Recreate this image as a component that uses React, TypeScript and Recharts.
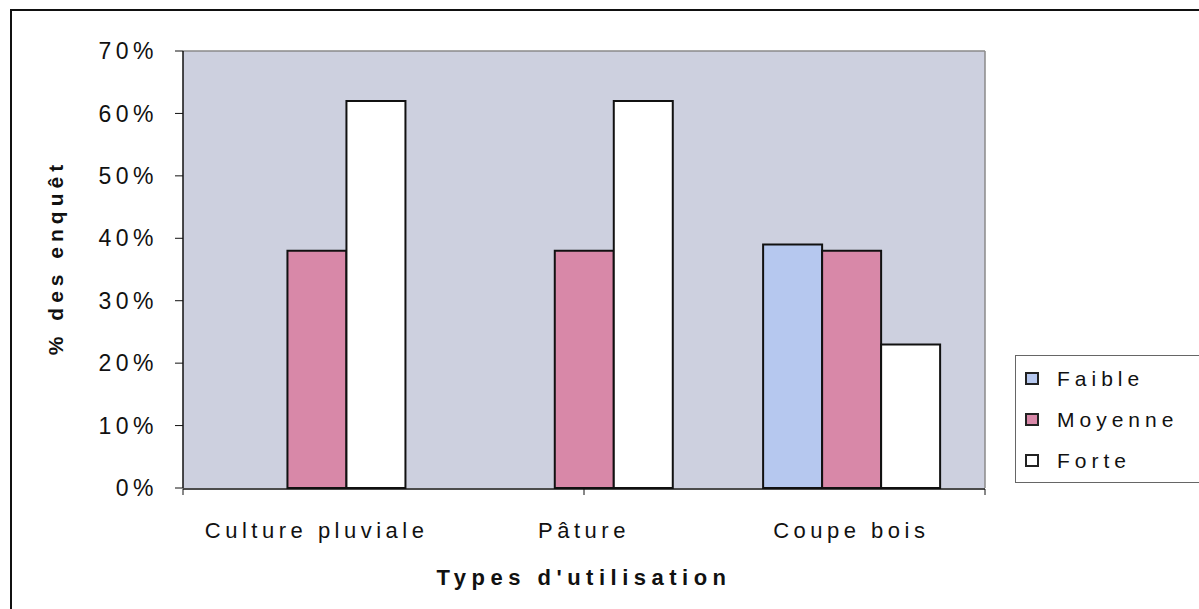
import { BarChart, Bar, XAxis, YAxis, CartesianGrid, Legend } from 'recharts';

// Types d'utilisation vs % des enquêtés
const categories = ['Culture pluviale', 'Pâture', 'Coupe bois'];
const seriesNames = ['Faible', 'Moyenne', 'Forte'];
const faible = [0, 0, 39];
const moyenne = [38, 38, 38];
const forte = [62, 62, 23];
const yTicks = [0, 10, 20, 30, 40, 50, 60, 70];
const boundaryTicks = [0, 1, 2, 3];

const data = categories.map((name, i) => ({
  name,
  Faible: faible[i],
  Moyenne: moyenne[i],
  Forte: forte[i],
}));

const FONT = '"Liberation Sans", Arial, sans-serif';

const YLabel = (props: any) => {
  const vb = props.viewBox || {};
  const x = 55;
  const y = vb.y + vb.height / 2 - 12;
  return (
    <text
      x={x}
      y={y}
      transform={`rotate(-90, ${x}, ${y})`}
      textAnchor="middle"
      dominantBaseline="central"
      fontFamily={FONT}
      fontWeight="bold"
      fontSize={21}
      letterSpacing={5}
      fill="#111"
    >
      % des enquêt
    </text>
  );
};

const LegendBox = (props: any) => {
  const payload = [...(props.payload || [])].sort(
    (a: any, b: any) => seriesNames.indexOf(a.value) - seriesNames.indexOf(b.value)
  );
  return (
    <div
      style={{
        border: '1px solid #666',
        background: '#fff',
        padding: '2px 0 1px 9px',
        fontFamily: FONT,
        fontSize: 21,
        letterSpacing: 5,
        color: '#111',
      }}
    >
      {payload.map((entry: any) => (
        <div key={entry.value} style={{ display: 'flex', alignItems: 'center', height: 41 }}>
          <span
            style={{
              display: 'inline-block',
              width: 10,
              height: 9,
              border: '2px solid #222',
              background: entry.color,
              marginRight: 18,
            }}
          />
          <span>{entry.value}</span>
        </div>
      ))}
    </div>
  );
};

const App = () => {
  return (
    <div style={{ position: 'absolute', left: 0, top: 0, width: 1199, height: 609, background: '#fff', overflow: 'hidden' }}>
      <div
        style={{
          position: 'absolute',
          left: 10,
          top: 9,
          width: 1220,
          height: 640,
          borderLeft: '2px solid #111',
          borderTop: '2px solid #111',
        }}
      />
      <div style={{ position: 'absolute', left: 0, top: 0 }}>
        <BarChart
          width={1199}
          height={609}
          data={data}
          margin={{ top: 50, right: 213, bottom: 119, left: 0 }}
          barCategoryGap="17%"
          barGap={0}
        >
          <CartesianGrid fill="#cdd0df" horizontal={false} vertical={false} />
          <XAxis
            xAxisId="top"
            orientation="top"
            type="number"
            domain={[0, 1]}
            height={1}
            tick={false}
            tickLine={false}
            axisLine={{ stroke: '#8a8a8a', strokeWidth: 1.5 }}
          />
          <YAxis
            yAxisId="right"
            orientation="right"
            domain={[0, 70]}
            width={1}
            tick={false}
            tickLine={false}
            axisLine={{ stroke: '#8a8a8a', strokeWidth: 1.5 }}
          />
          <XAxis
            xAxisId="grid"
            type="number"
            domain={[0, 3]}
            ticks={boundaryTicks}
            height={1}
            tick={() => <g />}
            tickSize={6}
            tickLine={{ stroke: '#111' }}
            axisLine={{ stroke: '#111', strokeWidth: 1.5 }}
          />
          <XAxis
            dataKey="name"
            height={1}
            axisLine={false}
            tickLine={false}
            tickSize={6}
            tickMargin={28}
            tick={{ fill: '#111', fontSize: 22, fontFamily: FONT, letterSpacing: 4.5 }}
            label={{
              value: "Types d'utilisation",
              position: 'bottom',
              offset: 80,
              style: { fill: '#111', fontSize: 22, fontWeight: 'bold', fontFamily: FONT, letterSpacing: 5.5 },
            }}
          />
          <YAxis
            domain={[0, 70]}
            ticks={yTicks}
            width={183}
            tickFormatter={(v: number) => `${v}%`}
            tickSize={8}
            tickMargin={17}
            tickLine={{ stroke: '#111' }}
            axisLine={{ stroke: '#111', strokeWidth: 1.5 }}
            tick={{ fill: '#111', fontSize: 23, fontFamily: FONT, letterSpacing: 4.5 }}
            label={<YLabel />}
          />
          <Legend
            layout="horizontal"
            verticalAlign="middle"
            align="center"
            content={<LegendBox />}
            wrapperStyle={{ position: 'absolute', left: 1015, top: 355, width: 200, height: 'auto' }}
          />
          <Bar dataKey="Faible" fill="#b6c8ef" stroke="#111" strokeWidth={2} isAnimationActive={false} />
          <Bar dataKey="Moyenne" fill="#d888a8" stroke="#111" strokeWidth={2} isAnimationActive={false} />
          <Bar dataKey="Forte" fill="#ffffff" stroke="#111" strokeWidth={2} isAnimationActive={false} />
        </BarChart>
      </div>
    </div>
  );
};

export default App;
